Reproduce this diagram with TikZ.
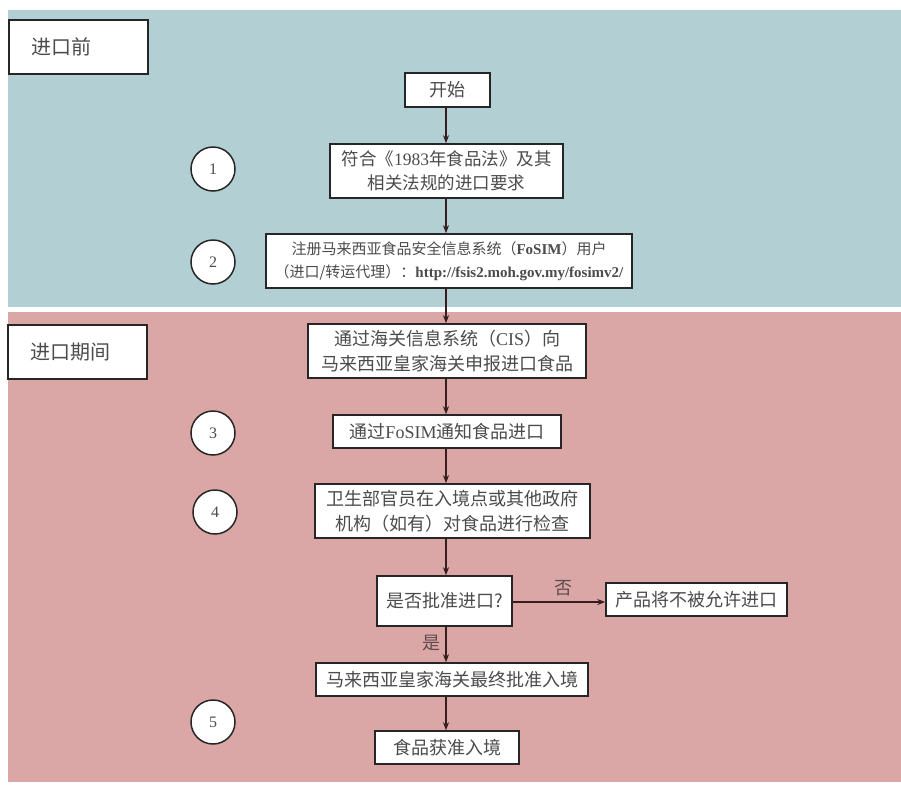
\documentclass[tikz,border=0pt]{standalone}
\usepackage{fontspec}
\setmainfont{Liberation Serif}
\newfontfamily\cjk{Noto Sans CJK SC}
\usetikzlibrary{arrows.meta,calc}
\definecolor{teal}{RGB}{178,208,212}
\definecolor{pinkbg}{RGB}{219,166,166}
\definecolor{txt}{RGB}{75,75,75}
\definecolor{arrc}{RGB}{55,30,30}
\newcommand{\lat}[1]{{\rmfamily #1}}
\tikzset{
  box/.style={draw=black!85, line width=1.6pt, fill=white, inner sep=0pt, align=center, text=txt, font=\cjk\fontsize{18}{25}\selectfont},
  lab/.style={box, font=\cjk\fontsize{20}{24}\selectfont, minimum width=139, minimum height=54, align=left, text width=95},
  num/.style={circle, draw=black!85, line width=1.5pt, fill=white, minimum size=44, inner sep=0pt, text=txt, font=\rmfamily\fontsize{16}{16}\selectfont},
  arr/.style={draw=arrc, line width=1.5pt, -{Stealth[length=8pt,width=6pt]}},
  yn/.style={text=arrc!80, font=\cjk\fontsize{18}{18}\selectfont}
}
\begin{document}
\begin{tikzpicture}[x=1pt,y=-1pt]
\useasboundingbox (0,0) rectangle (901,785);
\fill[teal] (8,10) rectangle (901,307);
\fill[pinkbg] (8,312) rectangle (901,782);

\node[lab] (pre) at (78.5,47) {进口前};
\node[lab] (dur) at (77.5,352) {进口期间};

\node[box, minimum width=85, minimum height=34] (start) at (447.5,90) {开始};
\node[box, minimum width=233, minimum height=54, font=\cjk\fontsize{17.5}{24}\selectfont] (b1) at (446.5,171) {符合《\lat{1983}年食品法》及其\\相关法规的进口要求};
\node[box, minimum width=366, minimum height=54, font=\cjk\fontsize{15}{23}\selectfont] (b2) at (449,261) {注册马来西亚食品安全信息系统（\lat{\bfseries FoSIM}）用户\\（进口/转运代理）：\lat{\bfseries http://fsis2.moh.gov.my/fosimv2/}};
\node[box, minimum width=278, minimum height=54] (cis) at (447,351) {通过海关信息系统（\lat{CIS}）向\\马来西亚皇家海关申报进口食品};
\node[box, minimum width=228, minimum height=33] (b3) at (447,431.5) {通过\lat{FoSIM}通知食品进口};
\node[box, minimum width=275, minimum height=54] (b4) at (452.5,511) {卫生部官员在入境点或其他政府\\机构（如有）对食品进行检查};
\node[box, minimum width=135, minimum height=50] (dec) at (444.5,601) {是否批准进口?};
\node[box, minimum width=181, minimum height=33] (rej) at (696.5,599.5) {产品将不被允许进口};
\node[box, minimum width=272, minimum height=33] (cus) at (452,679.5) {马来西亚皇家海关最终批准入境};
\node[box, minimum width=144, minimum height=33] (food) at (447,747.5) {食品获准入境};

\node[num] (n1) at (213,169) {1};
\node[num] (n2) at (213,262) {2};
\node[num] (n3) at (213,433) {3};
\node[num] (n4) at (215,512) {4};
\node[num] (n5) at (213,722) {5};

\coordinate (col) at (446,0);
\draw[arr] (col |- start.south) -- (col |- b1.north);
\draw[arr] (col |- b1.south) -- (col |- b2.north);
\draw[arr] (col |- b2.south) -- (col |- cis.north);
\draw[arr] (col |- cis.south) -- (col |- b3.north);
\draw[arr] (col |- b3.south) -- (col |- b4.north);
\draw[arr] (col |- b4.south) -- (col |- dec.north);
\draw[arr] (col |- dec.south) -- node[yn, left=1pt, pos=0.45] {是} (col |- cus.north);
\draw[arr] (col |- cus.south) -- (col |- food.north);
\draw[arr] (dec.east |- 0,602) -- node[yn, above=2pt, pos=0.55] {否} (rej.west |- 0,602);
\end{tikzpicture}
\end{document}
